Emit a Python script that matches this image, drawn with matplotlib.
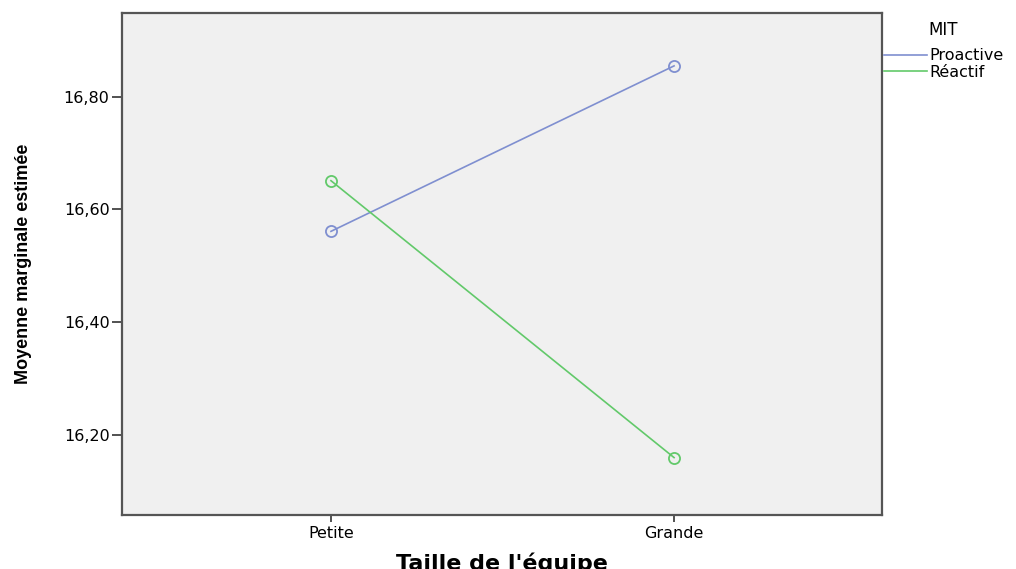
import matplotlib
matplotlib.use("Agg")
import matplotlib.pyplot as plt

# données (moyennes marginales estimées)
categories = ["Petite", "Grande"]
proactive = [16.561, 16.855]
reactif = [16.651, 16.159]
series_names = ["Proactive", "Réactif"]
y_ticks = [16.20, 16.40, 16.60, 16.80]

plt.rcParams['font.family'] = ['Liberation Sans', 'DejaVu Sans']

fig = plt.figure(figsize=(10.16, 5.69), dpi=100)
ax = fig.add_axes([0.1201, 0.0949, 0.7480, 0.8823])
ax.set_facecolor('#f0f0f0')

x = list(range(len(categories)))
blue = '#7f8fd0'
green = '#62c96a'
l1, = ax.plot(x, proactive, color=blue, lw=1.2, marker='o', ms=8,
              mfc='none', mec=blue, mew=1.3, label=series_names[0])
l2, = ax.plot(x, reactif, color=green, lw=1.2, marker='o', ms=8,
              mfc='none', mec=green, mew=1.3, label=series_names[1])

ax.set_xlim(-0.609, 1.606)
ax.set_ylim(16.057, 16.949)
ax.set_xticks(x)
ax.set_xticklabels(categories, fontsize=11.5, family=['DejaVu Sans'])
ax.set_yticks(y_ticks)
ax.set_yticklabels([f"{v:.2f}".replace('.', ',') for v in y_ticks],
                   fontsize=11.5, family=['DejaVu Sans'])

for s in ax.spines.values():
    s.set_color('#555555')
    s.set_linewidth(1.6)
ax.tick_params(axis='y', length=7, width=1.2, color='#333333', pad=2)
ax.tick_params(axis='x', length=5, width=1.2, color='#333333', pad=3)

ax.set_xlabel("Taille de l'équipe", fontsize=16, fontweight='bold',
              family=['DejaVu Sans'], labelpad=8)
ax.set_ylabel("Moyenne marginale estimée", fontsize=13, fontweight='bold',
              family=['Liberation Sans', 'DejaVu Sans'], labelpad=23)

fig.text(0.914, 0.947, "MIT", fontsize=12, family=['DejaVu Sans'],
         ha='left', va='center')
leg = ax.legend(handles=[l1, l2], loc='upper left',
                bbox_to_anchor=(0.870, 0.915), bbox_transform=fig.transFigure,
                frameon=False, handlelength=2.7,
                handletextpad=0.15, labelspacing=0.1, borderpad=0,
                borderaxespad=0, prop={'family': 'DejaVu Sans', 'size': 11.5})
for h in leg.legend_handles:
    h.set_marker('')

fig.savefig("out.png", dpi=100)
